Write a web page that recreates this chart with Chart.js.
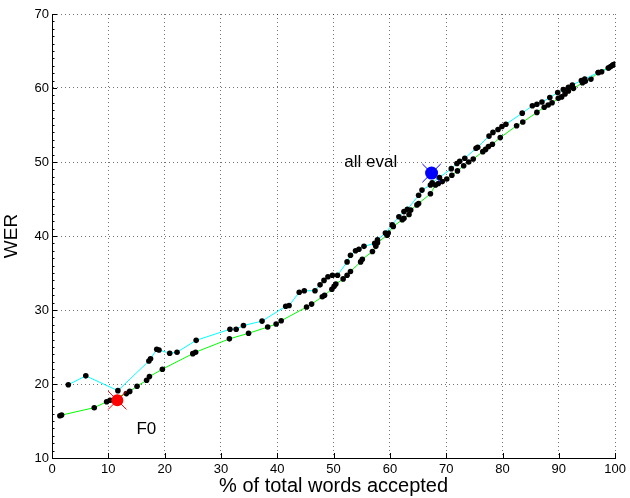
<!DOCTYPE html>
<html lang="en">
<head>
    <meta charset="UTF-8">
    <script src="https://cdn.jsdelivr.net/npm/chart.js@4.4.0/dist/chart.umd.min.js"></script>
    <style>
        html, body { margin: 0; padding: 0; background: #fff; }
        #wrap { width: 630px; height: 498px; position: relative; }
    </style>
    <title>WER vs words accepted</title>
</head>
<body>
    <div id="wrap"><canvas id="werChart" width="630" height="498"></canvas></div>

    <script>
        // upper (cyan) curve
        const cyanX = [2.9, 6.0, 11.7, 17.2, 17.5, 18.6, 19.0, 20.9, 22.2, 25.6, 31.6, 32.7, 34.0, 37.3, 41.5, 42.1,
            43.9, 44.8, 46.7, 47.6, 48.3, 49.0, 49.8, 50.7, 52.4, 53.0, 53.9, 54.5, 55.4, 57.3, 57.8, 59.2, 60.4,
            61.6, 62.5, 63.1, 65.1, 65.7, 67.2, 67.5, 68.8, 70.9, 71.9, 72.4, 73.3, 75.3, 75.6, 77.6, 78.3, 79.2,
            79.9, 80.6, 83.5, 85.3, 86.1, 87.0, 88.4, 89.8, 90.8, 91.7, 92.4, 94.0, 94.6, 97.0, 97.6, 98.8, 99.2,
            99.6, 99.9];
        const cyanY = [19.9, 21.1, 19.1, 23.1, 23.4, 24.7, 24.6, 24.15, 24.3, 25.9, 27.4, 27.4, 27.9, 28.5, 30.5, 30.6,
            32.4, 32.6, 32.6, 33.4, 34.0, 34.5, 34.7, 34.7, 36.5, 37.4, 38.0, 38.2, 38.6, 39.0, 39.5, 40.4, 41.5,
            42.6, 43.3, 43.6, 45.5, 46.2, 46.9, 47.2, 47.9, 49.1, 49.8, 50.1, 50.5, 51.85, 52.0, 53.5, 54.0, 54.4,
            54.8, 55.1, 56.6, 57.6, 57.8, 58.1, 58.7, 59.4, 59.8, 60.1, 60.4, 61.0, 61.2, 62.1, 62.2, 62.7, 62.9,
            63.1, 63.2];

        // lower (green) curve
        const greenX = [1.4, 1.7, 7.5, 9.7, 10.3, 13.2, 13.8, 15.1, 16.8, 17.3, 19.6, 25.0, 25.5, 31.5, 34.9, 38.3,
            39.8, 40.7, 45.2, 46.1, 48.0, 48.4, 49.7, 50.1, 50.4, 51.7, 52.4, 53.0, 54.8, 55.1, 56.9, 57.5, 57.8,
            59.5, 59.7, 60.6, 62.2, 62.5, 63.4, 63.7, 64.8, 65.1, 67.2, 68.1, 68.6, 69.3, 70.1, 71.0, 72.0, 73.1,
            74.0, 74.8, 76.5, 77.0, 77.5, 78.2, 79.6, 82.5, 83.6, 86.1, 87.4, 88.1, 88.8, 89.9, 90.5, 91.1, 91.7,
            92.6, 94.2, 94.7, 95.7, 97.0, 98.8, 99.6, 99.9];
        const greenY = [15.7, 15.8, 16.8, 17.6, 17.8, 18.7, 19.0, 19.7, 20.5, 21.0, 22.0, 24.1, 24.3, 26.1, 26.85, 27.7,
            28.1, 28.55, 30.4, 30.8, 31.8, 32.0, 32.8, 33.2, 33.5, 34.2, 34.7, 35.2, 36.5, 36.85, 37.9, 38.6, 39.1,
            40.1, 40.4, 41.3, 42.2, 42.4, 42.9, 43.5, 44.2, 44.4, 45.7, 46.9, 47.1, 47.35, 47.7, 48.2, 48.8, 49.5,
            50.0, 50.4, 51.4, 51.7, 52.1, 52.4, 53.3, 54.9, 55.4, 56.7, 57.4, 57.7, 58.0, 58.6, 58.8, 59.2, 59.6,
            59.95, 60.7, 60.9, 61.2, 62.1, 62.7, 63.1, 63.2];

        // highlighted operating points
        const allEvalPoint = { x: 67.4, y: 48.5 };
        const f0Point = { x: 11.6, y: 17.8 };
        const notes = [
            { text: 'all eval', x: 51.9, y: 49.9 },
            { text: 'F0', x: 15.0, y: 13.9 }
        ];

        const xTicks = [0, 10, 20, 30, 40, 50, 60, 70, 80, 90, 100];
        const yTicks = [10, 20, 30, 40, 50, 60, 70];

        const FONT = '"Liberation Sans", Arial, Helvetica, sans-serif';

        function toPoints(xs, ys) {
            return xs.map((x, i) => ({ x: x, y: ys[i] }));
        }

        // inward tick marks, MATLAB style (minor ticks on y only)
        const tickMarks = {
            id: 'tickMarks',
            afterDraw(chart) {
                const ctx = chart.ctx;
                const xs = chart.scales.x, ys = chart.scales.y;
                const area = chart.chartArea;
                ctx.save();
                ctx.strokeStyle = '#000';
                ctx.lineWidth = 1;
                ctx.beginPath();
                xTicks.forEach(v => {
                    const px = Math.round(xs.getPixelForValue(v)) + 0.5;
                    ctx.moveTo(px, area.bottom);
                    ctx.lineTo(px, area.bottom - 5);
                });
                for (let v = yTicks[0]; v <= yTicks[yTicks.length - 1]; v++) {
                    const py = Math.round(ys.getPixelForValue(v)) + 0.5;
                    const len = (v % 10 === 0) ? 5 : 2.5;
                    ctx.moveTo(area.left, py);
                    ctx.lineTo(area.left + len, py);
                }
                ctx.stroke();
                ctx.restore();
            }
        };

        const noteText = {
            id: 'noteText',
            afterDatasetsDraw(chart) {
                const ctx = chart.ctx;
                ctx.save();
                ctx.fillStyle = '#000';
                ctx.font = '17px ' + FONT;
                ctx.textAlign = 'left';
                ctx.textBaseline = 'middle';
                notes.forEach(n => {
                    ctx.fillText(n.text, chart.scales.x.getPixelForValue(n.x), chart.scales.y.getPixelForValue(n.y));
                });
                ctx.restore();
            }
        };

        const ctx = document.getElementById('werChart').getContext('2d');
        new Chart(ctx, {
            type: 'scatter',
            data: {
                datasets: [
                    {
                        data: [allEvalPoint], pointStyle: 'circle', pointRadius: 6.5,
                        backgroundColor: '#0000ff', borderColor: '#0000ff', borderWidth: 0, order: 0
                    },
                    {
                        data: [allEvalPoint], pointStyle: 'crossRot', pointRadius: 13,
                        borderColor: '#0000ff', borderWidth: 1, order: 0
                    },
                    {
                        data: [f0Point], pointStyle: 'circle', pointRadius: 6,
                        backgroundColor: '#ff0000', borderColor: '#ff0000', borderWidth: 0, order: 0
                    },
                    {
                        data: [f0Point], pointStyle: 'crossRot', pointRadius: 13,
                        borderColor: '#ff0000', borderWidth: 1, order: 0
                    },
                    {
                        data: toPoints(cyanX, cyanY), showLine: true,
                        borderColor: '#00ffff', borderWidth: 1,
                        pointRadius: 2.8, pointBackgroundColor: '#000', pointBorderColor: '#000', pointBorderWidth: 0,
                        order: 1
                    },
                    {
                        data: toPoints(greenX, greenY), showLine: true,
                        borderColor: '#00ff00', borderWidth: 1,
                        pointRadius: 2.8, pointBackgroundColor: '#000', pointBorderColor: '#000', pointBorderWidth: 0,
                        order: 2
                    }
                ]
            },
            options: {
                responsive: false,
                animation: false,
                events: [],
                layout: { padding: { top: 14, right: 13, left: 0, bottom: 0 } },
                plugins: { legend: { display: false }, tooltip: { enabled: false } },
                scales: {
                    x: {
                        type: 'linear', min: 0, max: 100,
                        afterFit: s => { s.height = 40; },
                        afterBuildTicks: s => { s.ticks = xTicks.map(v => ({ value: v })); },
                        ticks: { color: '#000', padding: 4, font: { family: FONT, size: 13 } },
                        grid: { color: 'rgba(0,0,0,0.55)', lineWidth: 1, drawTicks: false },
                        border: { display: true, color: '#000', width: 1, dash: [1, 3] },
                        title: {
                            display: true, text: '% of total words accepted', color: '#000',
                            font: { family: FONT, size: 20 }, padding: { top: 0, bottom: 0 }
                        }
                    },
                    y: {
                        type: 'linear', min: 10, max: 70,
                        afterFit: s => { s.width = 52; },
                        afterBuildTicks: s => { s.ticks = yTicks.map(v => ({ value: v })); },
                        ticks: { color: '#000', padding: 3, font: { family: FONT, size: 13 } },
                        grid: { color: 'rgba(0,0,0,0.55)', lineWidth: 1, drawTicks: false },
                        border: { display: true, color: '#000', width: 1, dash: [1, 3] },
                        title: {
                            display: true, text: 'WER', color: '#000',
                            font: { family: FONT, size: 19 }, padding: { top: 0, bottom: 4 }
                        }
                    }
                }
            },
            plugins: [tickMarks, noteText]
        });
    </script>
</body>
</html>
